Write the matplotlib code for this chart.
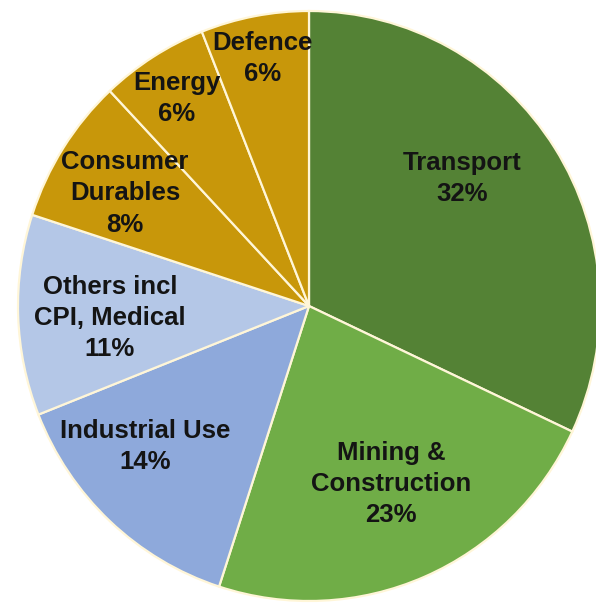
import matplotlib
matplotlib.use("Agg")
import matplotlib.pyplot as plt

# Share of demand by end-use segment (%)
segments = ["Transport", "Mining &\nConstruction", "Industrial Use",
            "Others incl\nCPI, Medical", "Consumer\nDurables", "Energy", "Defence"]
shares = [32, 23, 14, 11, 8, 6, 6]

colors = ["#548235", "#70AD47", "#8EA9DB", "#B4C7E7", "#C8970A", "#C8970A", "#C8970A"]

# label anchor points in data units (pie radius = 1)
label_xy = [(0.526, 0.432), (0.282, -0.603), (-0.564, -0.477), (-0.684, -0.041),
            (-0.632, 0.382), (-0.454, 0.703), (-0.160, 0.838)]

W, H = 596, 603
cx, cy = 309, 306          # pie centre, pixels from top-left
rx, ry = 291, 295          # horizontal / vertical radius in pixels

fig = plt.figure(figsize=(W / 100, H / 100), dpi=100)
ax = fig.add_axes([0, 0, 1, 1])

wedges, _ = ax.pie(shares, colors=colors, startangle=90, counterclock=False,
                   radius=1.0,
                   wedgeprops=dict(edgecolor="#FFF6D8", linewidth=1.6))

ax.set_aspect("auto")
ax.set_xlim(-cx / rx, (W - cx) / rx)
ax.set_ylim((cy - H) / ry, cy / ry)
ax.axis("off")

for name, val, (x, y) in zip(segments, shares, label_xy):
    ax.text(x, y, f"{name}\n{val}%", ha="center", va="center",
            multialignment="center", linespacing=1.38,
            fontsize=18.5, fontweight="bold", color="#141414",
            family=["Liberation Sans", "DejaVu Sans"])

fig.savefig("out.png", dpi=100, facecolor="white")
